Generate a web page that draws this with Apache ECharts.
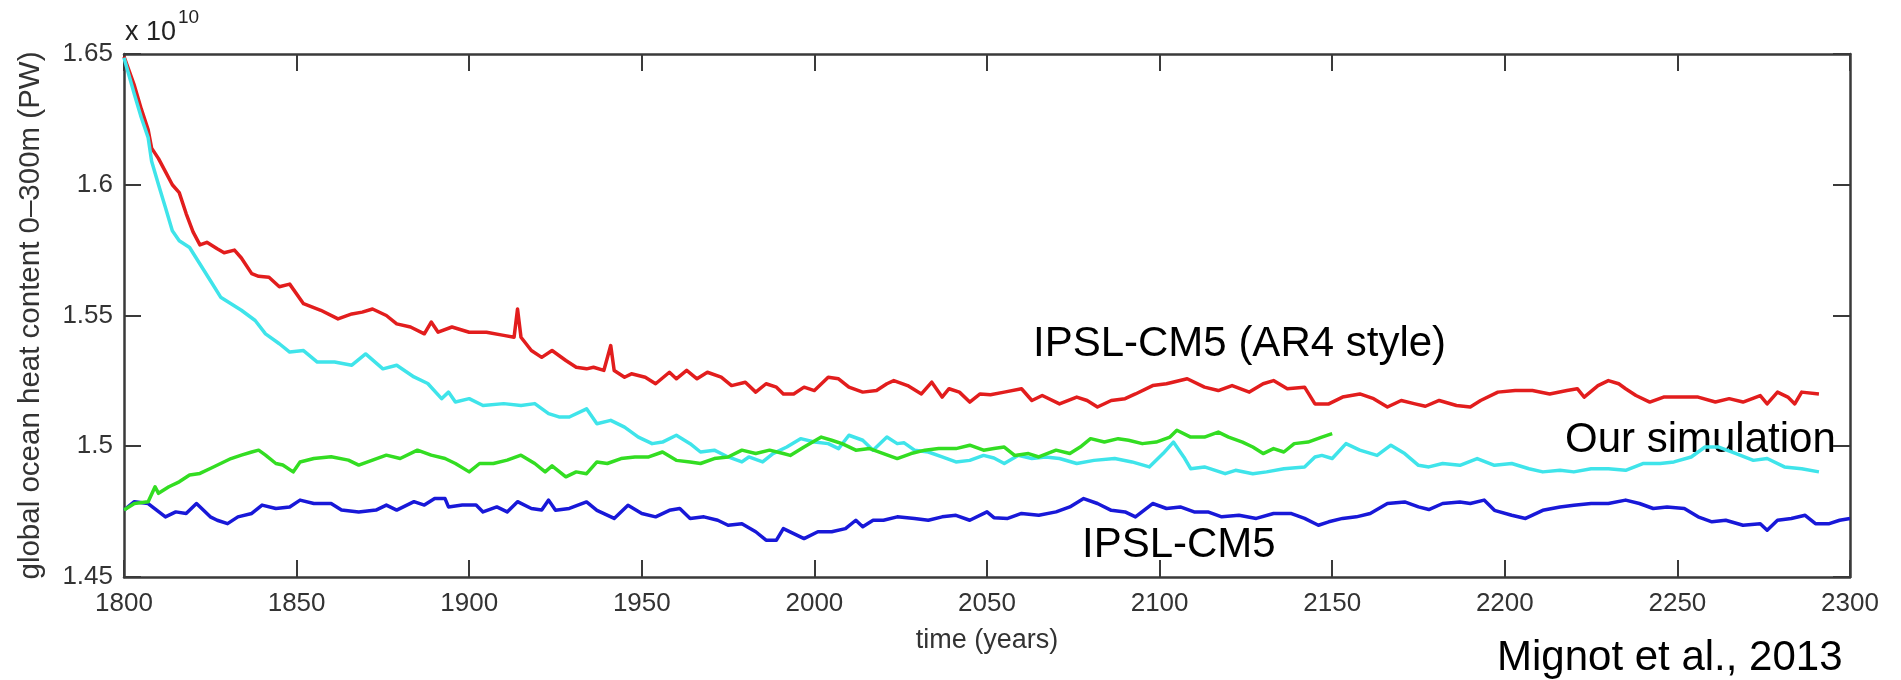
<!DOCTYPE html>
<html>
<head>
<meta charset="utf-8">
<title>global ocean heat content</title>
<script src="https://cdn.jsdelivr.net/npm/echarts@6/dist/echarts.min.js"></script>
<style>
html,body{margin:0;padding:0;background:#fff;}
#myChart{width:1901px;height:680px;}
</style>
</head>
<body>
<div id="myChart"></div>
<script>
/* x axis: years, y axis: heat content in 1e10 PW */
var xTicks = [1800, 1850, 1900, 1950, 2000, 2050, 2100, 2150, 2200, 2250, 2300];
var yTicks = [1.45, 1.5, 1.55, 1.6, 1.65];

/* IPSL-CM5 (AR4 style) - red */
var ar4Style = [[1800,1.649],[1803,1.638],[1805,1.629],[1807,1.621],[1808,1.614],[1810,1.610],[1812,1.605],[1814,1.600],[1816,1.597],[1818,1.589],[1820,1.582],[1822,1.577],[1824,1.578],[1827,1.5755],[1829,1.574],[1832,1.575],[1834,1.572],[1837,1.566],[1839,1.565],[1842,1.5646],[1845,1.561],[1848,1.562],[1852,1.5545],[1857,1.552],[1862,1.5487],[1866,1.5506],[1869,1.5513],[1872,1.5525],[1876,1.550],[1879,1.5468],[1883,1.5456],[1887,1.543],[1889,1.5475],[1891,1.5436],[1895,1.5456],[1900,1.5436],[1905,1.5436],[1910,1.5424],[1913,1.5417],[1914,1.5525],[1915,1.5417],[1918,1.5366],[1921,1.534],[1924,1.5366],[1928,1.5328],[1931,1.5302],[1934,1.5296],[1936,1.5302],[1939,1.529],[1941,1.5385],[1942,1.529],[1945,1.5264],[1947,1.5277],[1951,1.5264],[1954,1.5239],[1958,1.5283],[1960,1.5258],[1963,1.529],[1966,1.5258],[1969,1.5283],[1973,1.5264],[1976,1.5232],[1980,1.5245],[1983,1.5207],[1986,1.5239],[1989,1.5226],[1991,1.520],[1994,1.520],[1997,1.5226],[2000,1.5213],[2004,1.5264],[2007,1.5258],[2010,1.5226],[2014,1.5207],[2018,1.5213],[2021,1.5239],[2023,1.5251],[2027,1.5232],[2031,1.520],[2034,1.5245],[2037,1.5188],[2039,1.522],[2042,1.5207],[2045,1.5169],[2048,1.520],[2051,1.5197],[2055,1.5207],[2060,1.522],[2063,1.5175],[2066,1.5194],[2071,1.5162],[2076,1.5188],[2079,1.5175],[2082,1.515],[2086,1.5175],[2090,1.5182],[2093,1.520],[2098,1.5232],[2102,1.5239],[2108,1.5258],[2113,1.5226],[2117,1.5213],[2121,1.5232],[2126,1.5207],[2130,1.5239],[2133,1.5251],[2137,1.522],[2142,1.5226],[2145,1.5162],[2149,1.5162],[2153,1.5188],[2158,1.520],[2162,1.5182],[2166,1.515],[2170,1.5175],[2174,1.5162],[2177,1.5153],[2181,1.5175],[2186,1.5156],[2190,1.515],[2193,1.5175],[2198,1.5207],[2203,1.5213],[2208,1.5213],[2213,1.520],[2218,1.5213],[2221,1.522],[2223,1.5188],[2227,1.5232],[2230,1.5251],[2233,1.5239],[2235,1.522],[2238,1.5194],[2242,1.5169],[2246,1.5188],[2251,1.5188],[2256,1.5188],[2261,1.5169],[2265,1.5182],[2269,1.5169],[2274,1.5194],[2276,1.5162],[2279,1.5207],[2282,1.5188],[2284,1.5162],[2286,1.5207],[2291,1.520]];

/* Our simulation - cyan */
var ourSim = [[1800,1.6486],[1803,1.6346],[1805,1.6257],[1807,1.618],[1808,1.609],[1810,1.600],[1812,1.5913],[1814,1.5824],[1816,1.5786],[1819,1.576],[1822,1.5697],[1825,1.5634],[1828,1.557],[1831,1.5545],[1834,1.552],[1838,1.5481],[1841,1.543],[1845,1.5392],[1848,1.536],[1852,1.5366],[1856,1.5322],[1861,1.5322],[1866,1.531],[1870,1.5353],[1875,1.5296],[1879,1.531],[1884,1.5265],[1888,1.524],[1892,1.5182],[1894,1.5207],[1896,1.5169],[1900,1.5182],[1904,1.5156],[1910,1.5163],[1915,1.5156],[1919,1.5163],[1923,1.5125],[1926,1.5112],[1929,1.5112],[1934,1.5143],[1937,1.5086],[1941,1.5099],[1945,1.5073],[1949,1.5035],[1953,1.501],[1956,1.5016],[1960,1.5042],[1964,1.501],[1967,1.4978],[1971,1.4985],[1975,1.4959],[1979,1.494],[1981,1.4959],[1985,1.494],[1988,1.4972],[1992,1.4997],[1996,1.5029],[2000,1.5016],[2004,1.501],[2007,1.4991],[2010,1.5042],[2014,1.5023],[2017,1.4985],[2021,1.5035],[2024,1.501],[2026,1.5013],[2029,1.4985],[2033,1.4978],[2037,1.4959],[2041,1.494],[2045,1.4946],[2049,1.4965],[2052,1.4955],[2055,1.4934],[2059,1.4965],[2063,1.4953],[2067,1.4959],[2071,1.4953],[2076,1.4934],[2081,1.4946],[2087,1.4953],[2092,1.494],[2097,1.4921],[2101,1.4972],[2104,1.5016],[2107,1.4959],[2109,1.4914],[2113,1.4921],[2119,1.4895],[2122,1.4908],[2127,1.4895],[2131,1.4902],[2136,1.4914],[2142,1.4921],[2145,1.4959],[2147,1.4965],[2150,1.4953],[2154,1.501],[2158,1.4985],[2163,1.4965],[2167,1.5004],[2171,1.4972],[2175,1.4927],[2178,1.4921],[2182,1.4934],[2187,1.4927],[2192,1.4953],[2197,1.4927],[2202,1.4934],[2207,1.4914],[2211,1.4902],[2216,1.4908],[2220,1.4902],[2225,1.4914],[2230,1.4914],[2235,1.4908],[2240,1.4934],[2245,1.4934],[2249,1.494],[2254,1.4959],[2258,1.4997],[2262,1.4997],[2267,1.4972],[2272,1.4946],[2276,1.4953],[2281,1.4921],[2286,1.4914],[2291,1.4902]];

/* green run (ends 2150) */
var greenRun = [[1800,1.4756],[1803,1.4781],[1807,1.4788],[1809,1.4845],[1810,1.482],[1813,1.4845],[1816,1.4864],[1819,1.489],[1822,1.4896],[1825,1.4915],[1828,1.4934],[1831,1.4953],[1834,1.4966],[1837,1.4978],[1839,1.4985],[1841,1.4966],[1844,1.4934],[1846,1.4928],[1849,1.4902],[1851,1.494],[1855,1.4953],[1860,1.496],[1865,1.4947],[1868,1.4928],[1872,1.4947],[1876,1.4966],[1880,1.4953],[1885,1.4985],[1889,1.4966],[1893,1.4953],[1896,1.4934],[1900,1.4902],[1903,1.4934],[1907,1.4934],[1911,1.4947],[1915,1.4966],[1919,1.4934],[1922,1.4902],[1924,1.4925],[1928,1.4883],[1931,1.4902],[1934,1.4895],[1937,1.494],[1940,1.4934],[1944,1.4953],[1948,1.4959],[1952,1.4959],[1956,1.4978],[1960,1.4946],[1964,1.494],[1967,1.4934],[1971,1.4953],[1975,1.4959],[1979,1.4985],[1983,1.4972],[1987,1.4985],[1991,1.4972],[1993,1.4965],[1997,1.4997],[2002,1.5035],[2005,1.5023],[2008,1.501],[2012,1.4985],[2016,1.4991],[2020,1.4972],[2024,1.4953],[2028,1.4972],[2032,1.4985],[2036,1.4991],[2041,1.4991],[2045,1.5004],[2049,1.4985],[2052,1.4991],[2055,1.4997],[2058,1.4965],[2062,1.4972],[2065,1.4959],[2070,1.4985],[2074,1.4972],[2077,1.4997],[2080,1.5029],[2084,1.5016],[2088,1.5029],[2091,1.5023],[2095,1.501],[2099,1.5016],[2103,1.5035],[2105,1.5061],[2109,1.5035],[2113,1.5035],[2117,1.5054],[2120,1.5035],[2124,1.5016],[2127,1.4997],[2130,1.4972],[2133,1.4991],[2136,1.4978],[2139,1.501],[2143,1.5016],[2147,1.5035],[2150,1.5048]];

/* IPSL-CM5 - blue */
var ipslCM5 = [[1800,1.4756],[1803,1.4788],[1807,1.4781],[1812,1.473],[1815,1.4749],[1818,1.4743],[1821,1.4781],[1825,1.473],[1827,1.4717],[1830,1.4704],[1833,1.473],[1837,1.4743],[1840,1.4775],[1844,1.4762],[1848,1.4768],[1851,1.4794],[1855,1.4781],[1860,1.4781],[1863,1.4756],[1868,1.4749],[1873,1.4756],[1876,1.4775],[1879,1.4756],[1884,1.4788],[1887,1.4775],[1890,1.48],[1893,1.48],[1894,1.4768],[1898,1.4775],[1902,1.4775],[1904,1.4749],[1908,1.4768],[1911,1.4749],[1914,1.4788],[1918,1.4762],[1921,1.4756],[1923,1.4794],[1925,1.4755],[1929,1.4762],[1934,1.4787],[1937,1.4755],[1942,1.4724],[1946,1.4774],[1950,1.4743],[1954,1.473],[1958,1.4755],[1961,1.4762],[1964,1.4724],[1968,1.473],[1972,1.4717],[1975,1.4698],[1979,1.4704],[1983,1.4673],[1986,1.4641],[1989,1.4641],[1991,1.4685],[1994,1.4666],[1997,1.4647],[2001,1.4673],[2005,1.4673],[2009,1.4685],[2012,1.4717],[2014,1.4692],[2017,1.4717],[2020,1.4717],[2024,1.473],[2029,1.4724],[2033,1.4717],[2037,1.473],[2041,1.4736],[2045,1.4717],[2050,1.4749],[2052,1.4727],[2056,1.4724],[2060,1.4743],[2065,1.4736],[2070,1.4749],[2074,1.4768],[2078,1.48],[2082,1.4781],[2086,1.4755],[2090,1.4749],[2093,1.473],[2098,1.4781],[2102,1.4762],[2106,1.4768],[2110,1.4749],[2114,1.4749],[2118,1.473],[2123,1.4736],[2128,1.4724],[2133,1.4743],[2138,1.4743],[2142,1.4724],[2146,1.4698],[2149,1.4711],[2153,1.4724],[2157,1.473],[2161,1.4743],[2166,1.4781],[2171,1.4787],[2175,1.4768],[2178,1.4758],[2182,1.4781],[2187,1.4787],[2190,1.4781],[2194,1.4794],[2197,1.4755],[2202,1.4736],[2206,1.4724],[2211,1.4755],[2216,1.4768],[2220,1.4774],[2225,1.4781],[2230,1.4781],[2235,1.4794],[2239,1.4781],[2243,1.4762],[2247,1.4768],[2252,1.4762],[2256,1.473],[2260,1.4711],[2264,1.4717],[2269,1.4698],[2274,1.4704],[2276,1.4679],[2279,1.4717],[2283,1.4724],[2287,1.4736],[2290,1.4704],[2294,1.4704],[2297,1.4717],[2300,1.4724]];

var fontName = "'Liberation Sans', Arial, Helvetica, sans-serif";
var axisColor = '#3a3a3a';

function lineSeries(name, data, color){
    return {
        type: 'line',
        name: name,
        data: data,
        showSymbol: false,
        symbol: 'none',
        smooth: false,
        silent: true,
        animation: false,
        lineStyle: { color: color, width: 3.5, join: 'round' },
        itemStyle: { color: color }
    };
}

var myChart = echarts.init(document.getElementById('myChart'));

var tickStyle = { show: true, inside: true, length: 17, lineStyle: { color: axisColor, width: 2 } };
var lineStyleAxis = { show: true, onZero: false, lineStyle: { color: axisColor, width: 2.5 } };

myChart.setOption({
    animation: false,
    backgroundColor: '#ffffff',
    grid: { left: 124, right: 51, top: 54, bottom: 103, containLabel: false },
    xAxis: [{
        type: 'value',
        min: xTicks[0], max: xTicks[xTicks.length - 1], interval: 50,
        name: 'time (years)',
        nameLocation: 'middle',
        nameGap: 50,
        nameTextStyle: { fontFamily: fontName, fontSize: 27, color: '#333' },
        axisLine: lineStyleAxis,
        axisTick: tickStyle,
        splitLine: { show: false },
        axisLabel: {
            fontFamily: fontName, fontSize: 26, color: '#333', margin: 14,
            formatter: function(v){ return String(v); }
        }
    }, {
        type: 'value', position: 'top',
        min: xTicks[0], max: xTicks[xTicks.length - 1], interval: 50,
        axisLine: lineStyleAxis,
        axisTick: tickStyle,
        splitLine: { show: false },
        axisLabel: { show: false }
    }],
    yAxis: [{
        type: 'value',
        min: yTicks[0], max: yTicks[yTicks.length - 1], interval: 0.05,
        name: 'global ocean heat content 0\u2013300m (PW)',
        nameLocation: 'middle',
        nameGap: 78,
        nameTextStyle: { fontFamily: fontName, fontSize: 29.5, color: '#333' },
        axisLine: lineStyleAxis,
        axisTick: tickStyle,
        splitLine: { show: false },
        axisLabel: {
            fontFamily: fontName, fontSize: 26, color: '#333', margin: 11,
            formatter: function(v){ return String(+v.toFixed(2)); }
        }
    }, {
        type: 'value', position: 'right',
        min: yTicks[0], max: yTicks[yTicks.length - 1], interval: 0.05,
        axisLine: lineStyleAxis,
        axisTick: tickStyle,
        splitLine: { show: false },
        axisLabel: { show: false }
    }],
    series: [
        lineSeries('IPSL-CM5', ipslCM5, '#1818d8'),
        lineSeries('IPSL-CM5 (AR4 style)', ar4Style, '#e21d1d'),
        lineSeries('Our simulation', ourSim, '#3fe4ea'),
        lineSeries('green', greenRun, '#33dd22')
    ],
    graphic: [
        /* exponent of the y axis */
        { type: 'text', x: 125, y: 33, style: { text: 'x 10', font: '27px ' + fontName, fill: '#222', verticalAlign: 'middle' } },
        { type: 'text', x: 178, y: 18, style: { text: '10', font: '19px ' + fontName, fill: '#222', verticalAlign: 'middle' } },
        /* curve labels */
        { type: 'text', x: 1033, y: 344, style: { text: 'IPSL-CM5 (AR4 style)', font: '42px ' + fontName, fill: '#000', verticalAlign: 'middle' } },
        { type: 'text', x: 1565, y: 440, style: { text: 'Our simulation', font: '42px ' + fontName, fill: '#000', verticalAlign: 'middle' } },
        { type: 'text', x: 1082, y: 545, style: { text: 'IPSL-CM5', font: '42px ' + fontName, fill: '#000', verticalAlign: 'middle' } },
        { type: 'text', x: 1497, y: 658, style: { text: 'Mignot et al., 2013', font: '42px ' + fontName, fill: '#000', verticalAlign: 'middle' } }
    ]
});
</script>
</body>
</html>
